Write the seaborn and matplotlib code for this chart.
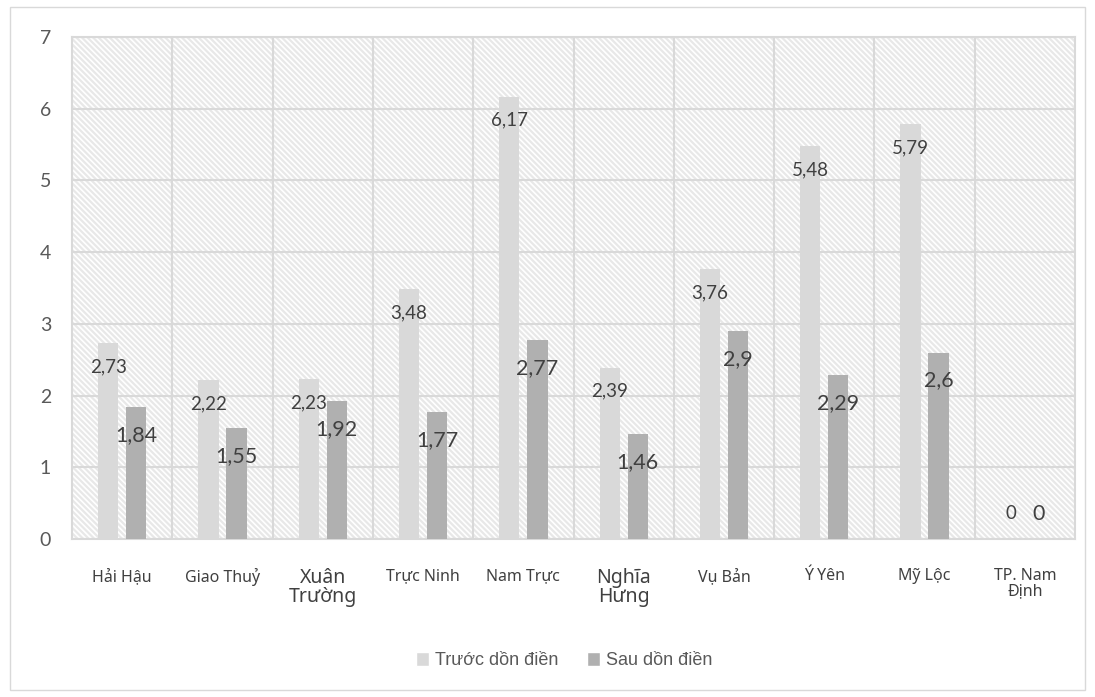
import numpy as np
import pandas as pd
import seaborn as sb
import matplotlib.pyplot as plt
from matplotlib.patches import Rectangle

huyen = ["Hải Hậu", "Giao Thuỷ", "Xuân\nTrường", "Trực Ninh", "Nam Trực",
         "Nghĩa\nHưng", "Vụ Bản", "Ý Yên", "Mỹ Lộc", "TP. Nam\nĐịnh"]
truoc = [2.73, 2.22, 2.23, 3.48, 6.17, 2.39, 3.76, 5.48, 5.79, 0]
sau = [1.84, 1.55, 1.92, 1.77, 2.77, 1.46, 2.9, 2.29, 2.6, 0]
nhom = ["Trước dồn điền", "Sau dồn điền"]
mau = ["#d9d9d9", "#b0b0b0"]
yticks = [0, 1, 2, 3, 4, 5, 6, 7]

df = pd.DataFrame({
    "Huyen": huyen * 2,
    "Gia tri": truoc + sau,
    "Nhom": [nhom[0]] * len(huyen) + [nhom[1]] * len(huyen),
})

sb.set_theme(style="white")
plt.rcParams["font.family"] = ["Lato", "Noto Sans", "DejaVu Sans"]
plt.rcParams["hatch.linewidth"] = 1.6

fig = plt.figure(figsize=(10.95, 6.97), dpi=100)
ax = fig.add_axes([0.0658, 0.2267, 0.9159, 0.7202])

# nen soc cheo
ax.add_patch(Rectangle((0, 0), 1, 1, transform=ax.transAxes, facecolor="white",
                       edgecolor="#e8e8e8", hatch="\\" * 6, linewidth=0, zorder=0))

sb.barplot(data=df, x="Huyen", y="Gia tri", hue="Nhom", hue_order=nhom,
           palette=mau, width=0.56, gap=0.28, saturation=1, legend=False,
           ax=ax, zorder=3, linewidth=0)

ax.set_xlim(-0.5, len(huyen) - 0.5)
ax.set_ylim(0, 7)
ax.set_yticks(yticks)
ax.set_yticklabels([str(v) for v in yticks], fontsize=14, color="#595959")
ax.set_xticks(range(len(huyen)))
ax.set_xticklabels(huyen, color="#404040", family=["Noto Sans", "DejaVu Sans"])
for lab in ax.get_xticklabels():
    if "\n" in lab.get_text() and "TP" not in lab.get_text():
        lab.set_fontsize(14)
    else:
        lab.set_fontsize(11.5)
    lab.set_linespacing(0.9)
ax.tick_params(axis="x", pad=21, length=0)
ax.tick_params(axis="y", pad=15, length=0)
ax.set_xticks(np.arange(0.5, len(huyen) - 1, 1), minor=True)
ax.tick_params(which="minor", length=0)
ax.grid(axis="y", which="major", color="#d9d9d9", linewidth=1.5, zorder=1)
ax.grid(axis="x", which="minor", color="#d9d9d9", linewidth=1.5, zorder=1)
ax.grid(axis="x", which="major", visible=False)
ax.set_axisbelow(True)
for s in ax.spines.values():
    s.set_color("#d9d9d9")
    s.set_linewidth(1.5)
ax.set_xlabel("")
ax.set_ylabel("")

# nhan gia tri
for i in range(len(huyen)):
    for v, dx, dy, fs in [(truoc[i], -0.14, 0.33, 13.5), (sau[i], 0.14, 0.39, 15.5)]:
        txt = str(v).replace(".", ",") if v != 0 else "0"
        y = v - dy if v > 0 else 0.35
        ax.text(i + dx, y, txt, ha="center", va="center", fontsize=fs,
                color="#404040", zorder=5)

handles = [Rectangle((0, 0), 1, 1, facecolor=c) for c in mau]
fig.legend(handles, nhom, loc="center", bbox_to_anchor=(0.515, 0.052), ncol=2,
           frameon=False, handlelength=0.75, handleheight=0.75, handletextpad=0.3,
           columnspacing=1.6, prop={"family": "Liberation Sans", "size": 13},
           labelcolor="#595959")

fig.patches.append(Rectangle((10 / 1095, 7 / 697), 1075 / 1095, 683 / 697,
                             transform=fig.transFigure, fill=False,
                             edgecolor="#d9d9d9", linewidth=1))

plt.savefig("out.png", dpi=100)
